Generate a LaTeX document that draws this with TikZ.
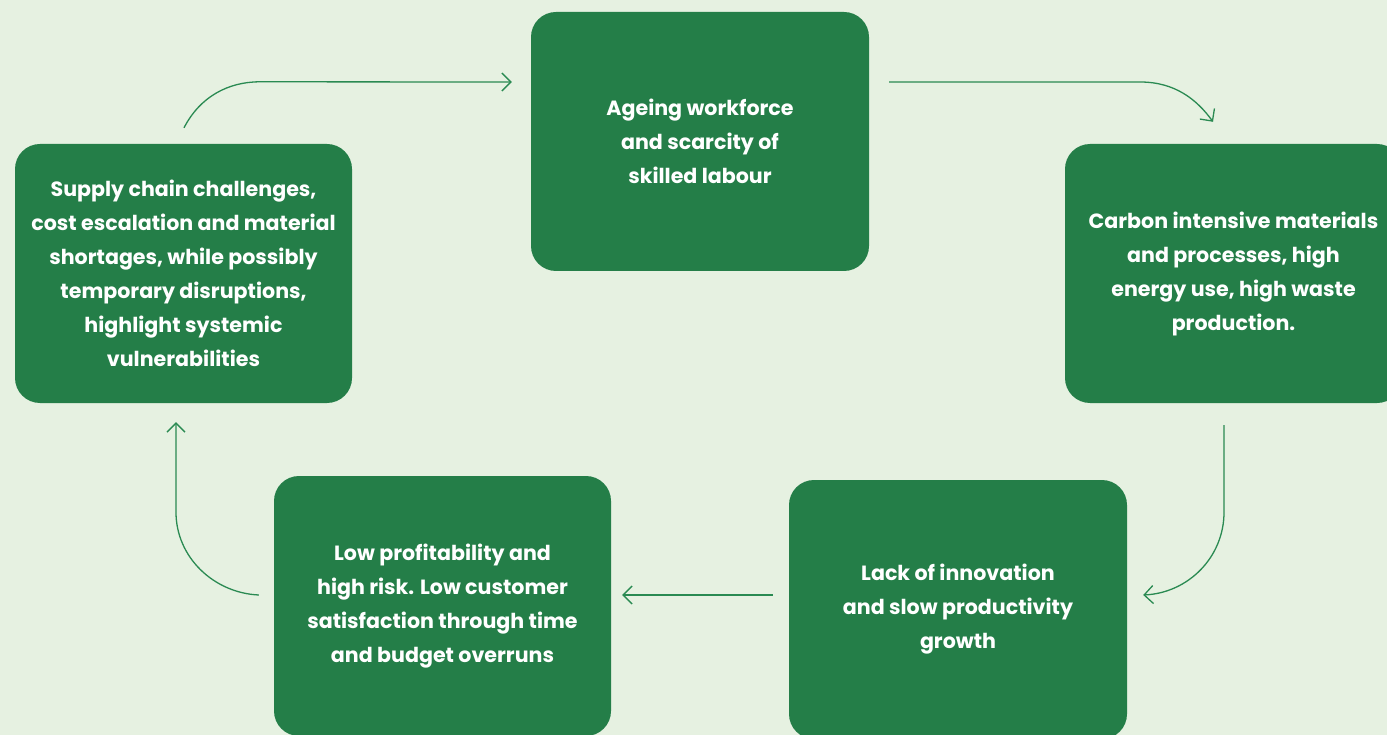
\documentclass[tikz,border=0pt]{standalone}
\usepackage{fontspec}
\setmainfont{Poppins}
\usetikzlibrary{arrows.meta,calc}
\definecolor{bg}{HTML}{E6F1E1}
\definecolor{boxgreen}{HTML}{247E48}
\definecolor{arrgreen}{HTML}{2A8A52}
\tikzset{
  card/.style={fill=boxgreen, rounded corners=25pt, text=white, align=center,
    font=\bfseries\fontsize{20.6}{34}\selectfont, inner sep=0pt},
  arr/.style={draw=arrgreen, line width=1.3pt, -{Straight Barb[length=9pt,width=18pt,line width=1.3pt]}},
}
\begin{document}
\begin{tikzpicture}[x=1pt,y=-1pt]
\useasboundingbox (0,0) rectangle (1387,735);
\fill[bg] (0,0) rectangle (1387,735);
% boxes
\node[card, minimum width=338pt, minimum height=259pt] (top) at (700,141.5)
  {Ageing workforce\\and scarcity of\\skilled labour};
\node[card, minimum width=337pt, minimum height=259pt] (left) at (183.5,273.5)
  {Supply chain challenges,\\cost escalation and material\\shortages, while possibly\\temporary disruptions,\\highlight systemic\\vulnerabilities};
\node[card, minimum width=337pt, minimum height=259pt] (right) at (1233.5,273.5)
  {Carbon intensive materials\\and processes, high\\energy use, high waste\\production.};
\node[card, minimum width=337pt, minimum height=260pt] (bl) at (442.5,606)
  {Low profitability and\\high risk. Low customer\\satisfaction through time\\and budget overruns};
\node[card, minimum width=338pt, minimum height=259pt] (br) at (958,609.5)
  {Lack of innovation\\and slow productivity\\growth};
% connector points
\coordinate (a1s) at ($(left.north)+(0.5,-16)$);
\coordinate (a1m) at ($(left.north)+(76.5,-62)$);
\coordinate (a1e) at ($(top.west)+(-19,-59.5)$);
\coordinate (a2s) at ($(top.east)+(20,-59.5)$);
\coordinate (a2m) at ($(top.east)+(271,-59.5)$);
\coordinate (a2e) at ($(right.north)+(-20.5,-22)$);
\coordinate (a3s) at ($(right.south)+(-9.5,22)$);
\coordinate (a3m) at ($(right.south)+(-9.5,109)$);
\coordinate (a3e) at ($(br.east)+(16,-14.5)$);
\coordinate (a4s) at ($(br.west)+(-16,-14.5)$);
\coordinate (a4e) at ($(bl.east)+(11,-11)$);
\coordinate (a5s) at ($(bl.west)+(-15,-11)$);
\coordinate (a5m) at ($(left.south)+(-7.5,109)$);
\coordinate (a5e) at ($(left.south)+(-7.5,19)$);
% connectors
\draw[arr] (a1s) .. controls ($(a1s)+(16,-31)$) and ($(a1m)+(-32,0)$) .. (a1m) -- (a1e);
\draw[arr] (a2s) -- (a2m) .. controls ($(a2m)+(35,0)$) and ($(a2e)+(-16,-22)$) .. (a2e);
\draw[arr] (a3s) -- (a3m) .. controls ($(a3m)+(0,45)$) and ($(a3e)+(45,-2)$) .. (a3e);
\draw[arr] (a4s) -- (a4e);
\draw[arr] (a5s) .. controls ($(a5s)+(-45,-2)$) and ($(a5m)+(0,45)$) .. (a5m) -- (a5e);
\end{tikzpicture}
\end{document}
